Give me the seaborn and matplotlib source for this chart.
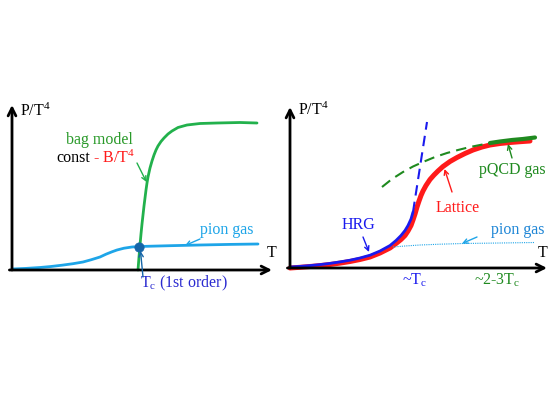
import matplotlib
matplotlib.use("Agg")
import matplotlib.pyplot as plt
import seaborn as sns

sns.set_theme(style="white")
plt.rcParams['font.family'] = ['Liberation Serif', 'DejaVu Serif']
plt.rcParams['mathtext.fontset'] = 'custom'
plt.rcParams['mathtext.rm'] = 'Liberation Serif'
plt.rcParams['mathtext.it'] = 'Liberation Serif:italic'

# ---------------- data (schematic, arbitrary units: T horizontal, P/T^4 vertical) ----------------
# Left panel: first-order transition
pion_left_T = [0, 14, 28, 39, 50, 61, 71, 79, 88, 94, 100, 105, 112, 120, 127, 158, 188, 218, 246]
pion_left_P = [1, 1.6, 2.5, 3.5, 4.8, 6.3, 8, 10.2, 13, 15.8, 18.2, 20, 21.8, 23, 23.5, 24.3, 25, 25.6, 26]

bag_T = [126, 127, 128, 129, 130, 131, 132, 133, 134, 135, 136, 138, 140, 142, 144, 146, 149, 152,
         156, 160, 166, 175, 188, 205, 228, 245]
bag_P = [0, 13, 25, 36, 46, 55, 64, 72, 80, 87, 93, 102, 109, 115, 120, 124, 128.5, 132,
         136, 139, 142.5, 145, 146.5, 147, 147.5, 147]

tc_T = [127]
tc_P = [23.5]

# Right panel: crossover
lattice_T = [0, 10, 20, 30, 40, 50, 60, 70, 80, 90, 100, 106, 111, 115, 118, 121, 123, 125, 127, 129,
             131, 133, 136, 140, 144, 148, 153, 160, 167, 175, 183, 192, 200, 210, 220, 230, 240]
lattice_P = [0, 0.7, 1.5, 2.4, 3.5, 4.9, 6.5, 8.5, 11, 15, 20, 24.5, 28.5, 32.5, 37, 42.5, 48, 54, 61, 67,
             72.5, 77, 82.5, 88.5, 93, 97, 101.5, 106.5, 110.5, 114.5, 118, 121, 123, 124.5, 125.5, 126.3, 127]

hrg_T = [0, 10, 20, 30, 40, 50, 60, 70, 80, 90, 100, 106, 111, 115, 118, 121, 123]
hrg_P = [1, 1.6, 2.4, 3.4, 4.6, 6.1, 7.8, 10, 12.8, 17, 22.5, 27.5, 32.5, 37.5, 42.5, 49, 56]

hrg_ext_T = [123, 137]
hrg_ext_P = [56, 146]

pqcd_T = [92, 102, 113, 123, 133, 145, 157, 168, 180, 190, 200]
pqcd_P = [81, 89, 96, 101.5, 106, 111, 115, 118, 121, 123, 125]

pqcd_solid_T = [200, 210, 222, 233, 245]
pqcd_solid_P = [125, 126.5, 128, 129, 130.5]

pion_right_T = [103, 115, 130, 150, 173, 210, 245]
pion_right_P = [21, 22, 23, 23.8, 24.5, 25, 25.5]

# ---------------- figure ----------------
W, H = 556, 393
fig = plt.figure(figsize=(W / 100, H / 100), dpi=100)

def add_axes(px0, px1, py_bottom, py_top):
    return fig.add_axes([px0 / W, (H - py_bottom) / H, (px1 - px0) / W, (py_bottom - py_top) / H])

axL = add_axes(12, 272, 270, 105)
axR = add_axes(290, 547, 268, 107)
axL.set_xlim(0, 260); axL.set_ylim(0, 165)
axR.set_xlim(0, 257); axR.set_ylim(0, 161)

GREEN_L = '#22b14c'
GREEN_T = '#2a9a2a'
GREEN_R = '#1f8a1f'
LBLUE = '#1ea5e8'
BLUE = '#1a1aee'
RED = '#ff1a1a'
DOT = '#1565a8'

for ax in (axL, axR):
    ax.axis('off')
    ax.annotate('', xy=(1, 0), xytext=(-0.01, 0), xycoords='axes fraction',
                arrowprops=dict(arrowstyle='->', lw=2, color='black', mutation_scale=14,
                                shrinkA=0, shrinkB=0), annotation_clip=False)
    ax.annotate('', xy=(0, 1), xytext=(0, 0), xycoords='axes fraction',
                arrowprops=dict(arrowstyle='->', lw=2, color='black', mutation_scale=14,
                                shrinkA=0, shrinkB=0), annotation_clip=False)

def line(ax, x, y, **kw):
    sns.lineplot(x=x, y=y, ax=ax, sort=False, estimator=None, legend=False, **kw)
    ln = ax.lines[-1]
    ln.set_clip_on(False)
    ln.set_solid_joinstyle('round')
    ln.set_solid_capstyle('round')

# left curves
line(axL, pion_left_T, pion_left_P, color=LBLUE, lw=2)
line(axL, bag_T, bag_P, color=GREEN_L, lw=2)
sns.scatterplot(x=tc_T, y=tc_P, ax=axL, color=DOT, s=45, zorder=5, legend=False, edgecolor=DOT)

# right curves
line(axR, lattice_T, lattice_P, color=RED, lw=3.6)
line(axR, hrg_T, hrg_P, color=BLUE, lw=2)
line(axR, hrg_ext_T, hrg_ext_P, color=BLUE, lw=1.5, linestyle=(0, (5, 3)))
line(axR, pqcd_T, pqcd_P, color=GREEN_R, lw=1.5, linestyle=(0, (5, 3)))
line(axR, pqcd_solid_T, pqcd_solid_P, color=GREEN_R, lw=3)
line(axR, pion_right_T, pion_right_P, color=LBLUE, lw=0.8, linestyle=(0, (1, 1)))

FS = 11.5

def arrow(ax, xy, xytext, color):
    ax.annotate('', xy=xy, xytext=xytext,
                arrowprops=dict(arrowstyle='->', lw=1, color=color, mutation_scale=8,
                                shrinkA=0, shrinkB=0), annotation_clip=False)

# left texts
axL.text(8, 159, r'P/T$^{4}$', fontsize=FS, ha='left', va='center', color='black')
axL.text(260, 17, 'T', fontsize=FS, ha='center', va='center', color='black')
axL.text(87, 130, 'bag model', fontsize=FS, ha='center', va='center', color=GREEN_T)
axL.text(78, 112, 'const', fontsize=FS, ha='right', va='center', color='black')
axL.text(81, 112, r'- B/T$^{4}$', fontsize=FS, ha='left', va='center', color=RED)
arrow(axL, (134.5, 88), (125, 107), GREEN_L)
axL.text(215, 40, 'pion gas', fontsize=FS, ha='center', va='center', color=LBLUE)
arrow(axL, (173, 24.5), (188, 31), LBLUE)
axL.text(128, -13, r'T$_{\rm c}$ (1st order)', fontsize=FS, ha='left', va='center', color='#2a2ad0')
arrow(axL, (128.5, 19), (131, -7), DOT)

# right texts
axR.text(8, 158, r'P/T$^{4}$', fontsize=FS, ha='left', va='center', color='black')
axR.text(253, 15, 'T', fontsize=FS, ha='center', va='center', color='black')
axR.text(68, 43, 'HRG', fontsize=FS, ha='center', va='center', color=BLUE)
arrow(axR, (79, 16), (73, 31), BLUE)
axR.text(168, 60, 'Lattice', fontsize=FS, ha='center', va='center', color=RED)
arrow(axR, (154.5, 99), (162, 76), RED)
axR.text(222, 98, 'pQCD gas', fontsize=FS, ha='center', va='center', color=GREEN_R)
arrow(axR, (218, 124), (222, 110), GREEN_R)
axR.text(228, 38, 'pion gas', fontsize=FS, ha='center', va='center', color='#1f86d6')
arrow(axR, (172, 24.5), (187, 31), LBLUE)
axR.text(125, -12, r'~T$_{\rm c}$', fontsize=FS, ha='center', va='center', color=BLUE)
axR.text(207, -12, r'~2-3T$_{\rm c}$', fontsize=FS, ha='center', va='center', color=GREEN_R)

fig.savefig('out.png', dpi=100)
